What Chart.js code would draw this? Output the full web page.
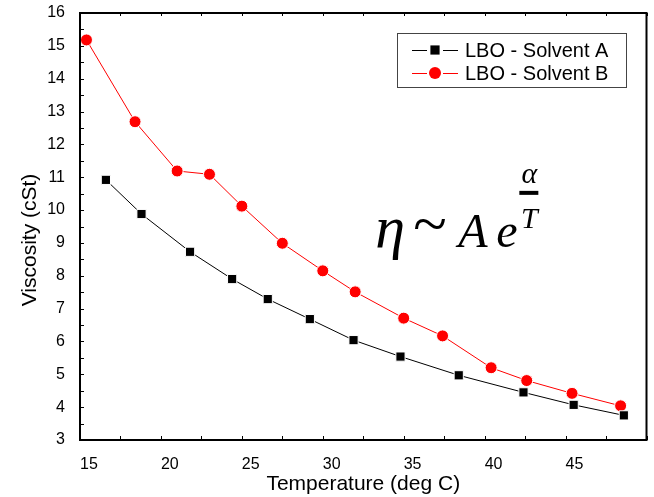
<!DOCTYPE html>
<html>
<head>
<meta charset="utf-8">
<script src="https://cdn.jsdelivr.net/npm/chart.js@4.4.1/dist/chart.umd.min.js"></script>
<style>
  html, body { margin: 0; padding: 0; background: #fff; }
  #wrap { width: 654px; height: 497px; }
</style>
</head>
<body>
<div id="wrap"><canvas id="viscChart" width="654" height="497"></canvas></div>
<script>
// Viscosity vs temperature, two solvents
const tempA = [16.6, 18.8, 21.8, 24.4, 26.6, 29.2, 31.9, 34.8, 38.4, 42.4, 45.5, 48.6];
const viscA = [10.92, 9.88, 8.73, 7.90, 7.29, 6.68, 6.04, 5.54, 4.97, 4.45, 4.07, 3.75];
const tempB = [15.4, 18.4, 21.0, 23.0, 25.0, 27.5, 30.0, 32.0, 35.0, 37.4, 40.4, 42.6, 45.4, 48.4];
const viscB = [15.18, 12.69, 11.19, 11.09, 10.12, 8.99, 8.15, 7.51, 6.71, 6.17, 5.20, 4.81, 4.42, 4.04];
const seriesNames = ['LBO - Solvent A', 'LBO - Solvent B'];
const xTicks = [15, 20, 25, 30, 35, 40, 45];
const yTicks = [3, 4, 5, 6, 7, 8, 9, 10, 11, 12, 13, 14, 15, 16];

const sans = 'Arial, "Liberation Sans", sans-serif';
const serif = '"Times New Roman", "Liberation Serif", serif';

function toPoints(xs, ys) {
    return xs.map((x, i) => ({ x: x, y: ys[i] }));
}

// frame, inward tick marks, y title, legend box and the formula
const decorations = {
    id: 'decorations',
    afterDraw(chart) {
        const ctx = chart.ctx;
        const area = chart.chartArea;
        const xs = chart.scales.x;
        const ys = chart.scales.y;
        ctx.save();

        // tick marks pointing into the plot
        ctx.strokeStyle = '#000';
        ctx.lineWidth = 1;
        ctx.beginPath();
        xs.ticks.forEach(t => {
            const px = Math.round(xs.getPixelForValue(t.value)) + 0.5;
            ctx.moveTo(px, area.bottom);
            ctx.lineTo(px, area.bottom - 4);
            ctx.moveTo(px, area.top);
            ctx.lineTo(px, area.top + 3);
        });
        ys.ticks.forEach(t => {
            const py = Math.round(ys.getPixelForValue(t.value)) + 0.5;
            ctx.moveTo(area.left, py);
            ctx.lineTo(area.left + 4, py);
        });
        ctx.stroke();

        // plot frame
        ctx.lineWidth = 2;
        ctx.strokeRect(area.left, area.top, area.right - area.left, area.bottom - area.top);

        // y axis title
        ctx.fillStyle = '#000';
        ctx.font = '21px ' + sans;
        ctx.textAlign = 'center';
        ctx.textBaseline = 'middle';
        ctx.translate(30, 240);
        ctx.rotate(-Math.PI / 2);
        ctx.fillText('Viscosity (cSt)', 0, 0);
        ctx.setTransform(1, 0, 0, 1, 0, 0);

        // legend
        const lx = 397, ly = 33, lw = 229, lh = 54;
        ctx.lineWidth = 1;
        ctx.strokeStyle = '#444';
        ctx.strokeRect(lx + 0.5, ly + 0.5, lw, lh);
        chart.data.datasets.forEach((ds, i) => {
            const cy = ly + 17 + i * 23;
            ctx.strokeStyle = ds.borderColor;
            ctx.lineWidth = 1;
            ctx.beginPath();
            ctx.moveTo(412, cy + 0.5);
            ctx.lineTo(427, cy + 0.5);
            ctx.moveTo(443, cy + 0.5);
            ctx.lineTo(458, cy + 0.5);
            ctx.stroke();
            ctx.fillStyle = ds.pointBackgroundColor;
            Chart.helpers.drawPoint(ctx, {
                pointStyle: ds.pointStyle,
                radius: ds.pointRadius,
                rotation: 0,
                borderWidth: 0
            }, 435, cy);
            ctx.fillStyle = '#000';
            ctx.font = '20px ' + sans;
            ctx.textAlign = 'left';
            ctx.textBaseline = 'middle';
            ctx.fillText(ds.label, 465, cy + 1);
        });

        // eta ~ A e^(alpha/T)
        const fx = xs.getPixelForValue(33.0);
        const fy = ys.getPixelForValue(8.88);
        ctx.fillStyle = '#000';
        ctx.textAlign = 'left';
        ctx.textBaseline = 'alphabetic';
        ctx.font = 'italic 60px ' + serif;
        ctx.fillText('\u03B7', fx + 4, fy);
        ctx.font = '62px ' + serif;
        ctx.fillText('~', fx + 42, fy - 3);
        ctx.font = 'italic 48px ' + serif;
        ctx.fillText('A', fx + 87, fy);
        ctx.fillText('e', fx + 125, fy);
        ctx.fillRect(fx + 148, fy - 56, 19, 4);
        ctx.font = 'italic 30px ' + serif;
        ctx.textAlign = 'center';
        ctx.fillText('\u03B1', fx + 158, fy - 64);
        ctx.fillText('T', fx + 158, fy - 19);
        ctx.restore();
    }
};

const chart = new Chart(document.getElementById('viscChart'), {
    type: 'line',
    data: {
        datasets: [{
            label: seriesNames[0],
            data: toPoints(tempA, viscA),
            borderColor: '#000000',
            borderWidth: 1,
            pointStyle: 'rect',
            pointRadius: 6.5,
            pointBackgroundColor: '#000000',
            pointBorderColor: '#ffffff',
            pointBorderWidth: 1,
            tension: 0
        }, {
            label: seriesNames[1],
            data: toPoints(tempB, viscB),
            borderColor: '#ff0000',
            borderWidth: 1,
            pointStyle: 'circle',
            pointRadius: 6,
            pointBackgroundColor: '#ff0000',
            pointBorderColor: '#ffffff',
            pointBorderWidth: 1,
            tension: 0
        }]
    },
    options: {
        responsive: false,
        animation: false,
        events: [],
        layout: {
            padding: { top: 13, right: 3, left: 0, bottom: 0 }
        },
        plugins: {
            legend: { display: false },
            tooltip: { enabled: false }
        },
        scales: {
            x: {
                type: 'linear',
                min: 15,
                max: 50,
                afterFit(scale) {
                    scale.height = 57;
                    scale.paddingLeft = 0;
                    scale.paddingRight = 0;
                },
                grid: { display: false, drawTicks: false },
                border: { display: false },
                ticks: {
                    stepSize: 2.5,
                    autoSkip: false,
                    maxRotation: 0,
                    align: 'start',
                    padding: 15,
                    color: '#000',
                    font: { family: sans, size: 16 },
                    callback: value => xTicks.includes(value) ? String(value) : ''
                },
                title: {
                    display: true,
                    text: 'Temperature (deg C)',
                    color: '#000',
                    font: { family: sans, size: 21 },
                    padding: { top: 0, bottom: 0 }
                }
            },
            y: {
                min: 3,
                max: 16,
                afterFit(scale) {
                    scale.width = 80;
                    scale.paddingTop = 0;
                    scale.paddingBottom = 0;
                },
                grid: { display: false, drawTicks: false },
                border: { display: false },
                ticks: {
                    stepSize: 0.5,
                    autoSkip: false,
                    padding: 15,
                    color: '#000',
                    font: { family: sans, size: 16 },
                    callback: value => yTicks.includes(value) ? String(value) : ''
                }
            }
        }
    },
    plugins: [decorations]
});
</script>
</body>
</html>
